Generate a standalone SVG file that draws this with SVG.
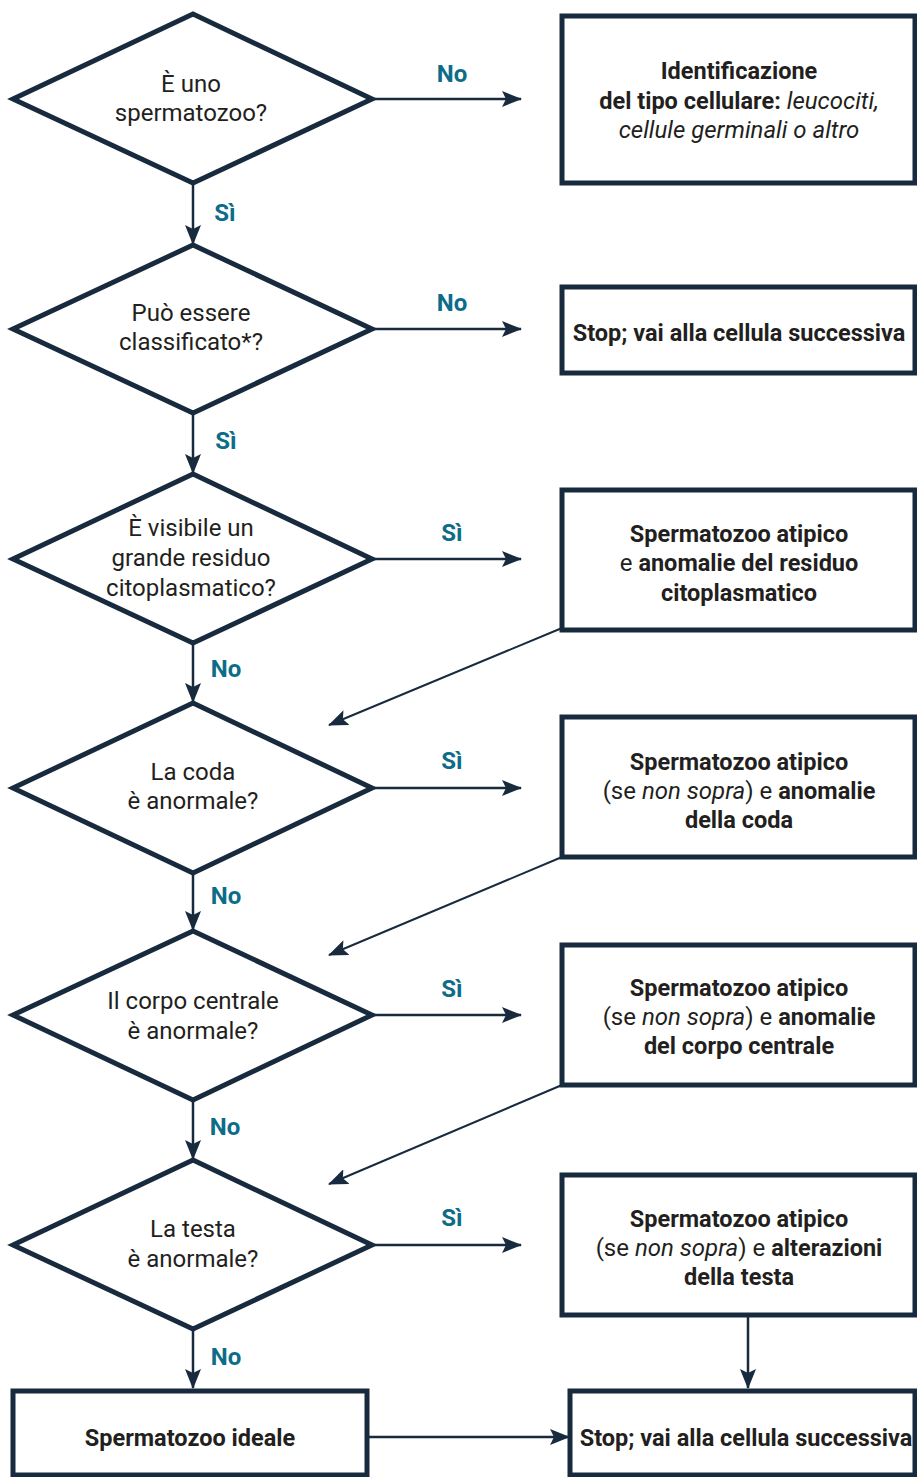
<svg xmlns="http://www.w3.org/2000/svg" width="917" height="1477" viewBox="0 0 917 1477">
<style>
.dia{fill:#fff;stroke:#182a3d;stroke-width:5;stroke-linejoin:miter}
.box{fill:#fff;stroke:#182a3d;stroke-width:5}
.t{font-family:Roboto,"Liberation Sans",sans-serif;font-size:24px;fill:#231f20;text-anchor:middle}
.b{font-weight:bold}
.bs{font-size:23.5px}
.i{font-style:italic}
.lab{font-family:Roboto,"Liberation Sans",sans-serif;font-size:24px;font-weight:bold;fill:#0d6c88;text-anchor:middle}
.c{stroke:#182a3d;stroke-width:2.5;fill:none;marker-end:url(#ah)}
.d{stroke:#182a3d;stroke-width:2;fill:none;marker-end:url(#ah)}
</style>
<defs>
<marker id="ah" markerUnits="userSpaceOnUse" markerWidth="20" markerHeight="16" viewBox="0 0 20 16" refX="19" refY="8" orient="auto">
<path d="M0,0 L20,8 L0,16 L4,8 z" fill="#182a3d"/>
</marker>
</defs>
<rect width="917" height="1477" fill="#fff"/>
<g id="connectors">
<line class="c" x1="372" y1="99" x2="521" y2="99"/>
<line class="c" x1="193" y1="183" x2="193" y2="244"/>
<line class="c" x1="372" y1="329" x2="521" y2="329"/>
<line class="c" x1="193" y1="413" x2="193" y2="473"/>
<line class="c" x1="372" y1="559" x2="521" y2="559"/>
<line class="c" x1="193" y1="643" x2="193" y2="702"/>
<line class="d" x1="562" y1="628" x2="329" y2="725"/>
<line class="c" x1="372" y1="788" x2="521" y2="788"/>
<line class="c" x1="193" y1="873" x2="193" y2="930"/>
<line class="d" x1="562" y1="857" x2="329" y2="955"/>
<line class="c" x1="372" y1="1015" x2="521" y2="1015"/>
<line class="c" x1="193" y1="1100" x2="193" y2="1159"/>
<line class="d" x1="562" y1="1085" x2="329" y2="1184"/>
<line class="c" x1="372" y1="1245" x2="521" y2="1245"/>
<line class="c" x1="193" y1="1329" x2="193" y2="1388"/>
<line class="c" x1="748" y1="1315" x2="748" y2="1388"/>
<line class="c" x1="367" y1="1437" x2="569" y2="1437"/>
<text class="lab" x="452" y="82">No</text>
<text class="lab" x="225" y="221">Sì</text>
<text class="lab" x="452" y="311">No</text>
<text class="lab" x="226" y="449">Sì</text>
<text class="lab" x="452" y="541">Sì</text>
<text class="lab" x="226" y="677">No</text>
<text class="lab" x="452" y="769">Sì</text>
<text class="lab" x="226" y="904">No</text>
<text class="lab" x="452" y="997">Sì</text>
<text class="lab" x="225" y="1135">No</text>
<text class="lab" x="452" y="1226">Sì</text>
<text class="lab" x="226" y="1365">No</text>
</g>
<g id="q1">
<polygon class="dia" points="193,14 372,99 193,183 13,99"/>
<text class="t" x="191" y="92">È uno</text>
<text class="t" x="191" y="121">spermatozoo?</text>
</g>
<g id="r1">
<rect class="box" x="562" y="16" width="353" height="167"/>
<text class="t b bs" x="739" y="79">Identificazione</text>
<text class="t" x="739" y="109"><tspan class="b bs">del tipo cellulare:</tspan> <tspan class="i">leucociti,</tspan></text>
<text class="t" x="739" y="138"><tspan class="i">cellule germinali o altro</tspan></text>
</g>
<g id="q2">
<polygon class="dia" points="193,245 372,329 193,413 13,329"/>
<text class="t" x="191" y="321">Può essere</text>
<text class="t" x="191" y="350">classificato*?</text>
</g>
<g id="r2">
<rect class="box" x="562" y="287" width="353" height="86"/>
<text class="t b bs" x="739" y="341">Stop; vai alla cellula successiva</text>
</g>
<g id="q3">
<polygon class="dia" points="193,474 372,559 193,643 13,559"/>
<text class="t" x="191" y="536">È visibile un</text>
<text class="t" x="191" y="566">grande residuo</text>
<text class="t" x="191" y="596">citoplasmatico?</text>
</g>
<g id="r3">
<rect class="box" x="562" y="490" width="353" height="140"/>
<text class="t b bs" x="739" y="542">Spermatozoo atipico</text>
<text class="t" x="739" y="571">e <tspan class="b bs">anomalie del residuo</tspan></text>
<text class="t b bs" x="739" y="601">citoplasmatico</text>
</g>
<g id="q4">
<polygon class="dia" points="193,703 372,788 193,873 13,788"/>
<text class="t" x="193" y="780">La coda</text>
<text class="t" x="193" y="809">è anormale?</text>
</g>
<g id="r4">
<rect class="box" x="562" y="717" width="353" height="140"/>
<text class="t b bs" x="739" y="770">Spermatozoo atipico</text>
<text class="t" x="739" y="799">(se <tspan class="i">non sopra</tspan>) e <tspan class="b bs">anomalie</tspan></text>
<text class="t b bs" x="739" y="828">della coda</text>
</g>
<g id="q5">
<polygon class="dia" points="193,931 372,1015 193,1100 13,1015"/>
<text class="t" x="193" y="1009">Il corpo centrale</text>
<text class="t" x="193" y="1039">è anormale?</text>
</g>
<g id="r5">
<rect class="box" x="562" y="945" width="353" height="140"/>
<text class="t b bs" x="739" y="996">Spermatozoo atipico</text>
<text class="t" x="739" y="1025">(se <tspan class="i">non sopra</tspan>) e <tspan class="b bs">anomalie</tspan></text>
<text class="t b bs" x="739" y="1054">del corpo centrale</text>
</g>
<g id="q6">
<polygon class="dia" points="193,1160 372,1245 193,1329 13,1245"/>
<text class="t" x="193" y="1237">La testa</text>
<text class="t" x="193" y="1267">è anormale?</text>
</g>
<g id="r6">
<rect class="box" x="562" y="1175" width="353" height="140"/>
<text class="t b bs" x="739" y="1227">Spermatozoo atipico</text>
<text class="t" x="739" y="1256">(se <tspan class="i">non sopra</tspan>) e <tspan class="b bs">alterazioni</tspan></text>
<text class="t b bs" x="739" y="1285">della testa</text>
</g>
<g id="r7">
<rect class="box" x="13" y="1391" width="354" height="84"/>
<text class="t b bs" x="190" y="1446">Spermatozoo ideale</text>
</g>
<g id="r8">
<rect class="box" x="570" y="1391" width="345" height="84"/>
<text class="t b bs" x="746" y="1446">Stop; vai alla cellula successiva</text>
</g>
</svg>
